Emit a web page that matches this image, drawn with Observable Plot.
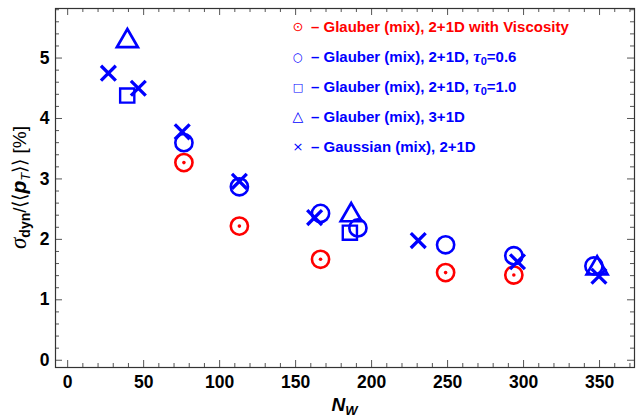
<!DOCTYPE html>
<html><head><meta charset="utf-8">
<script src="https://cdn.jsdelivr.net/npm/d3@7"></script>
<script src="https://cdn.jsdelivr.net/npm/@observablehq/plot@0.6"></script>
<style>body{margin:0;background:#fff} #chart{position:relative;width:636px;height:419px}</style>
</head><body><div id="chart"></div>
<script>
// Data
const viscNw  = [76.5, 113, 166.4, 248.7, 293.6];
const viscSig = [3.27, 2.22, 1.67, 1.45, 1.41];
const tau06Nw  = [76.5, 113, 166.4, 191, 248.7, 293.6, 346.3];
const tau06Sig = [3.60, 2.87, 2.43, 2.19, 1.91, 1.73, 1.56];
const tau10Nw  = [39.2, 185.7];
const tau10Sig = [4.38, 2.11];
const d31Nw  = [39.3, 186.6, 348.4];
const d31Sig = [5.28, 2.40, 1.52];
const gaussNw  = [26.8, 46.5, 75.4, 113, 162.5, 230.7, 296, 349.6];
const gaussSig = [4.75, 4.50, 3.78, 2.96, 2.36, 1.98, 1.63, 1.39];

const xTicks = [0, 50, 100, 150, 200, 250, 300, 350];
const yTicks = [0, 1, 2, 3, 4, 5];
const xMinor = [10,20,30,40,60,70,80,90,110,120,130,140,160,170,180,190,210,220,230,240,260,270,280,290,310,320,330,340,360,370];
const yMinor = [0.2,0.4,0.6,0.8,1.2,1.4,1.6,1.8,2.2,2.4,2.6,2.8,3.2,3.4,3.6,3.8,4.2,4.4,4.6,4.8,5.2,5.4,5.6,5.8];

const legendLabels = [
  {sym: "⊙", color: "#ff0000", text: "– Glauber (mix), 2+1D with Viscosity"},
  {sym: "○", color: "#0000ff", text: "– Glauber (mix), 2+1D, ", tau: "0.6"},
  {sym: "□", color: "#0000ff", text: "– Glauber (mix), 2+1D, ", tau: "1.0"},
  {sym: "△", color: "#0000ff", text: "– Glauber (mix), 3+1D"},
  {sym: "×", color: "#0000ff", text: "– Gaussian (mix), 2+1D"}
];
const legendSymSize = {"⊙": 13, "○": 11.5, "□": 11, "△": 14, "×": 13};

const W = 636, H = 419, mL = 55, mR = 2, mT = 8, mB = 52;
const plotH = H - mT - mB, plotW = W - mL - mR;
const tickC = "#555";
const RED = "#ff0000", BLUE = "#0000ff";
const pts = (xs, ys) => xs.map((x, i) => ({x, y: ys[i]}));

const chart = Plot.plot({
  width: W, height: H,
  marginLeft: mL, marginRight: mR, marginTop: mT, marginBottom: mB,
  x: {domain: [-8, 373]},
  y: {domain: [-0.12, 5.82]},
  style: {fontFamily: "'Liberation Sans', Arial, sans-serif", fontWeight: "bold", background: "#fff"},
  marks: [
    Plot.tickX(xTicks, {x: d => d, insetTop: plotH - 7, stroke: tickC}),
    Plot.tickX(xTicks, {x: d => d, insetBottom: plotH - 7, stroke: tickC}),
    Plot.tickX(xMinor, {x: d => d, insetTop: plotH - 4, stroke: tickC}),
    Plot.tickX(xMinor, {x: d => d, insetBottom: plotH - 4, stroke: tickC}),
    Plot.tickY(yTicks, {y: d => d, insetRight: plotW - 7, stroke: tickC}),
    Plot.tickY(yTicks, {y: d => d, insetLeft: plotW - 7, stroke: tickC}),
    Plot.tickY(yMinor, {y: d => d, insetRight: plotW - 4, stroke: tickC}),
    Plot.tickY(yMinor, {y: d => d, insetLeft: plotW - 4, stroke: tickC}),
    Plot.frame({stroke: "#333", strokeWidth: 1.2}),
    Plot.axisX(xTicks, {tickSize: 0, tickPadding: 8, fontSize: 17.5, label: null, fill: "#000", stroke: "#000", strokeWidth: 0.3, tickFormat: d => String(d), letterSpacing: "1.1px"}),
    Plot.axisY(yTicks, {tickSize: 0, tickPadding: 6, fontSize: 17.5, label: null, fill: "#000", stroke: "#000", strokeWidth: 0.3, tickFormat: d => String(d)}),
    Plot.dot(pts(viscNw, viscSig), {x: "x", y: "y", r: 8.6, stroke: RED, strokeWidth: 2.6}),
    Plot.dot(pts(viscNw, viscSig), {x: "x", y: "y", r: 1.8, fill: RED}),
    Plot.dot(pts(tau06Nw, tau06Sig), {x: "x", y: "y", r: 8.6, stroke: BLUE, strokeWidth: 2.6}),
    Plot.dot(pts(tau10Nw, tau10Sig), {x: "x", y: "y", symbol: "square", r: 8, stroke: BLUE, strokeWidth: 2.4}),
    Plot.dot(pts(d31Nw, d31Sig), {x: "x", y: "y", symbol: "triangle", r: 7.8, stroke: BLUE, strokeWidth: 2.7}),
    Plot.dot(pts(gaussNw, gaussSig), {x: "x", y: "y", symbol: "times", r: 6.8, stroke: BLUE, strokeWidth: 3.3})
  ]
});
document.getElementById("chart").appendChild(chart);

const svg = d3.select(chart);
// y label
const yl = svg.append("text")
  .attr("transform", `translate(26,${mT + plotH / 2}) rotate(-90)`)
  .attr("text-anchor", "middle").attr("font-size", 19).attr("fill", "#000")
  .attr("font-family", "'Liberation Sans', Arial, sans-serif").attr("font-weight", "normal");
yl.append("tspan").attr("font-family", "'Liberation Serif', serif").attr("font-style", "italic").attr("font-size", 23).text("σ");
yl.append("tspan").attr("font-weight", "bold").attr("font-size", 14).attr("dy", 4).text("dyn");
yl.append("tspan").attr("dy", -4).text("/⟨⟨");
yl.append("tspan").attr("font-weight", "bold").attr("font-style", "italic").attr("font-size", 21).text("p");
yl.append("tspan").attr("font-style", "italic").attr("font-size", 13).attr("dy", 4).text("T");
yl.append("tspan").attr("dy", -4).text("⟩⟩ [%]");

// x label
const xl = svg.append("text")
  .attr("x", mL + plotW / 2).attr("y", 411)
  .attr("text-anchor", "middle").attr("font-size", 19).attr("fill", "#000")
  .attr("font-family", "'Liberation Sans', Arial, sans-serif").attr("font-weight", "bold").attr("font-style", "italic");
xl.append("tspan").text("N");
xl.append("tspan").attr("font-size", 13).attr("dy", 4).text("W");

// legend
const lg = svg.append("g").attr("text-anchor", "start")
  .attr("font-family", "'Liberation Sans', Arial, sans-serif").attr("font-weight", "bold").attr("font-size", 15);
legendLabels.forEach((d, i) => {
  const y = 32 + i * 30;
  lg.append("text").attr("x", 298).attr("y", y - 1).attr("text-anchor", "middle").attr("fill", d.color)
    .attr("font-family", "'DejaVu Sans', sans-serif").attr("font-weight", "normal")
    .attr("font-size", legendSymSize[d.sym]).text(d.sym);
  const t = lg.append("text").attr("x", 311).attr("y", y).attr("fill", d.color);
  t.append("tspan").text(d.text);
  if (d.tau) {
    t.append("tspan").attr("font-family", "'Liberation Serif', serif").attr("font-style", "italic").attr("font-size", 17).text("τ");
    t.append("tspan").attr("font-size", 11).attr("dy", 3).text("0");
    t.append("tspan").attr("dy", -3).text("=" + d.tau);
  }
});
</script>
</body></html>
